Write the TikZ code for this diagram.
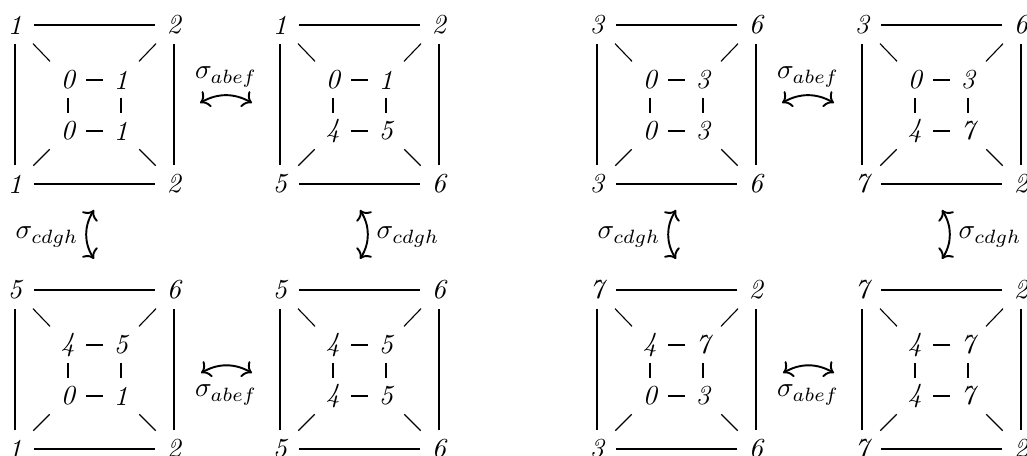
\documentclass[tikz,border=0pt]{standalone}
\usetikzlibrary{arrows.meta}
\newcommand\pA[2]{#1}
\newcommand\pB[2]{#2}
\tikzset{
  dg/.style={font=\itshape, inner sep=0pt},
  ln/.style={line width=0.4pt, shorten <=#1, shorten >=#1},
  sig/.style={line width=0.7pt, arrows={Computer Modern Rightarrow[]-Computer Modern Rightarrow[]}},
  lab/.style={inner sep=0pt},
}
\newcommand\drawsq[9]{%
  \begin{scope}[shift={(#2,#3)}]
    \node[dg] (#1tl) at (0,1) {#4};
    \node[dg] (#1tr) at (159,1) {#5};
    \node[dg] (#1bl) at (0,160) {#6};
    \node[dg] (#1br) at (159,160) {#7};
    \node[dg] (#1a) at (53,56) {\pA#8};
    \node[dg] (#1b) at (106,56) {\pB#8};
    \node[dg] (#1c) at (53,107) {\pA#9};
    \node[dg] (#1d) at (106,107) {\pB#9};
  \end{scope}
  \draw[ln=6.9pt] (#1tl.center) -- (#1tr.center);
  \draw[ln=6.9pt] (#1bl.center) -- (#1br.center);
  \draw[ln=6.9pt] (#1tl.center) -- (#1bl.center);
  \draw[ln=6.9pt] (#1tr.center) -- (#1br.center);
  \draw[ln=6.7pt] (#1a.center) -- (#1b.center);
  \draw[ln=6.7pt] (#1c.center) -- (#1d.center);
  \draw[ln=6.7pt] (#1a.center) -- (#1c.center);
  \draw[ln=6.7pt] (#1b.center) -- (#1d.center);
  \draw[ln=9.4pt] (#1tl.center) -- (#1a.center);
  \draw[ln=9.4pt] (#1tr.center) -- (#1b.center);
  \draw[ln=9.4pt] (#1bl.center) -- (#1c.center);
  \draw[ln=9.4pt] (#1br.center) -- (#1d.center);
}
\begin{document}
\begin{tikzpicture}[x=0.3636pt, y=-0.3636pt]
  \clip (0,0) rectangle (1027,456);
  % left group
  \drawsq{p}{15}{24}{1}{2}{1}{2}{01}{01}
  \drawsq{q}{280}{24}{1}{2}{5}{6}{01}{45}
  \drawsq{r}{15}{289}{5}{6}{1}{2}{45}{01}
  \drawsq{s}{280}{289}{5}{6}{5}{6}{45}{45}
  % right group
  \drawsq{t}{597}{24}{3}{6}{3}{6}{03}{03}
  \drawsq{u}{862}{24}{3}{6}{7}{2}{03}{47}
  \drawsq{v}{597}{289}{7}{2}{3}{6}{47}{03}
  \drawsq{w}{862}{289}{7}{2}{7}{2}{47}{47}
  % arrows, left group
  \coordinate (h1s) at (200,103); \coordinate (h1e) at (252,103);
  \coordinate (h2s) at (201,373); \coordinate (h2e) at (252,373);
  \coordinate (v1s) at (94,210);  \coordinate (v1e) at (94,259);
  \coordinate (v2s) at (360,210); \coordinate (v2e) at (360,259);
  \draw[sig] (h1s) to[bend left=30] (h1e);
  \draw[sig] (h2s) to[bend left=30] (h2e);
  \draw[sig] (v1e) to[bend left=32] (v1s);
  \draw[sig] (v2s) to[bend left=32] (v2e);
  \node[lab] (lh1) at (226,77) {$\sigma_{abef}$};
  \node[lab] (lh2) at (226,395) {$\sigma_{abef}$};
  \node[lab] (lv1) at (47,237) {$\sigma_{cdgh}$};
  \node[lab] (lv2) at (408,237) {$\sigma_{cdgh}$};
  % arrows, right group
  \coordinate (h3s) at (782,103); \coordinate (h3e) at (834,103);
  \coordinate (h4s) at (783,373); \coordinate (h4e) at (834,373);
  \coordinate (v3s) at (676,210); \coordinate (v3e) at (676,259);
  \coordinate (v4s) at (942,210); \coordinate (v4e) at (942,259);
  \draw[sig] (h3s) to[bend left=30] (h3e);
  \draw[sig] (h4s) to[bend left=30] (h4e);
  \draw[sig] (v3e) to[bend left=32] (v3s);
  \draw[sig] (v4s) to[bend left=32] (v4e);
  \node[lab] (lh3) at (808,77) {$\sigma_{abef}$};
  \node[lab] (lh4) at (808,395) {$\sigma_{abef}$};
  \node[lab] (lv3) at (629,237) {$\sigma_{cdgh}$};
  \node[lab] (lv4) at (990,237) {$\sigma_{cdgh}$};
\end{tikzpicture}
\end{document}
